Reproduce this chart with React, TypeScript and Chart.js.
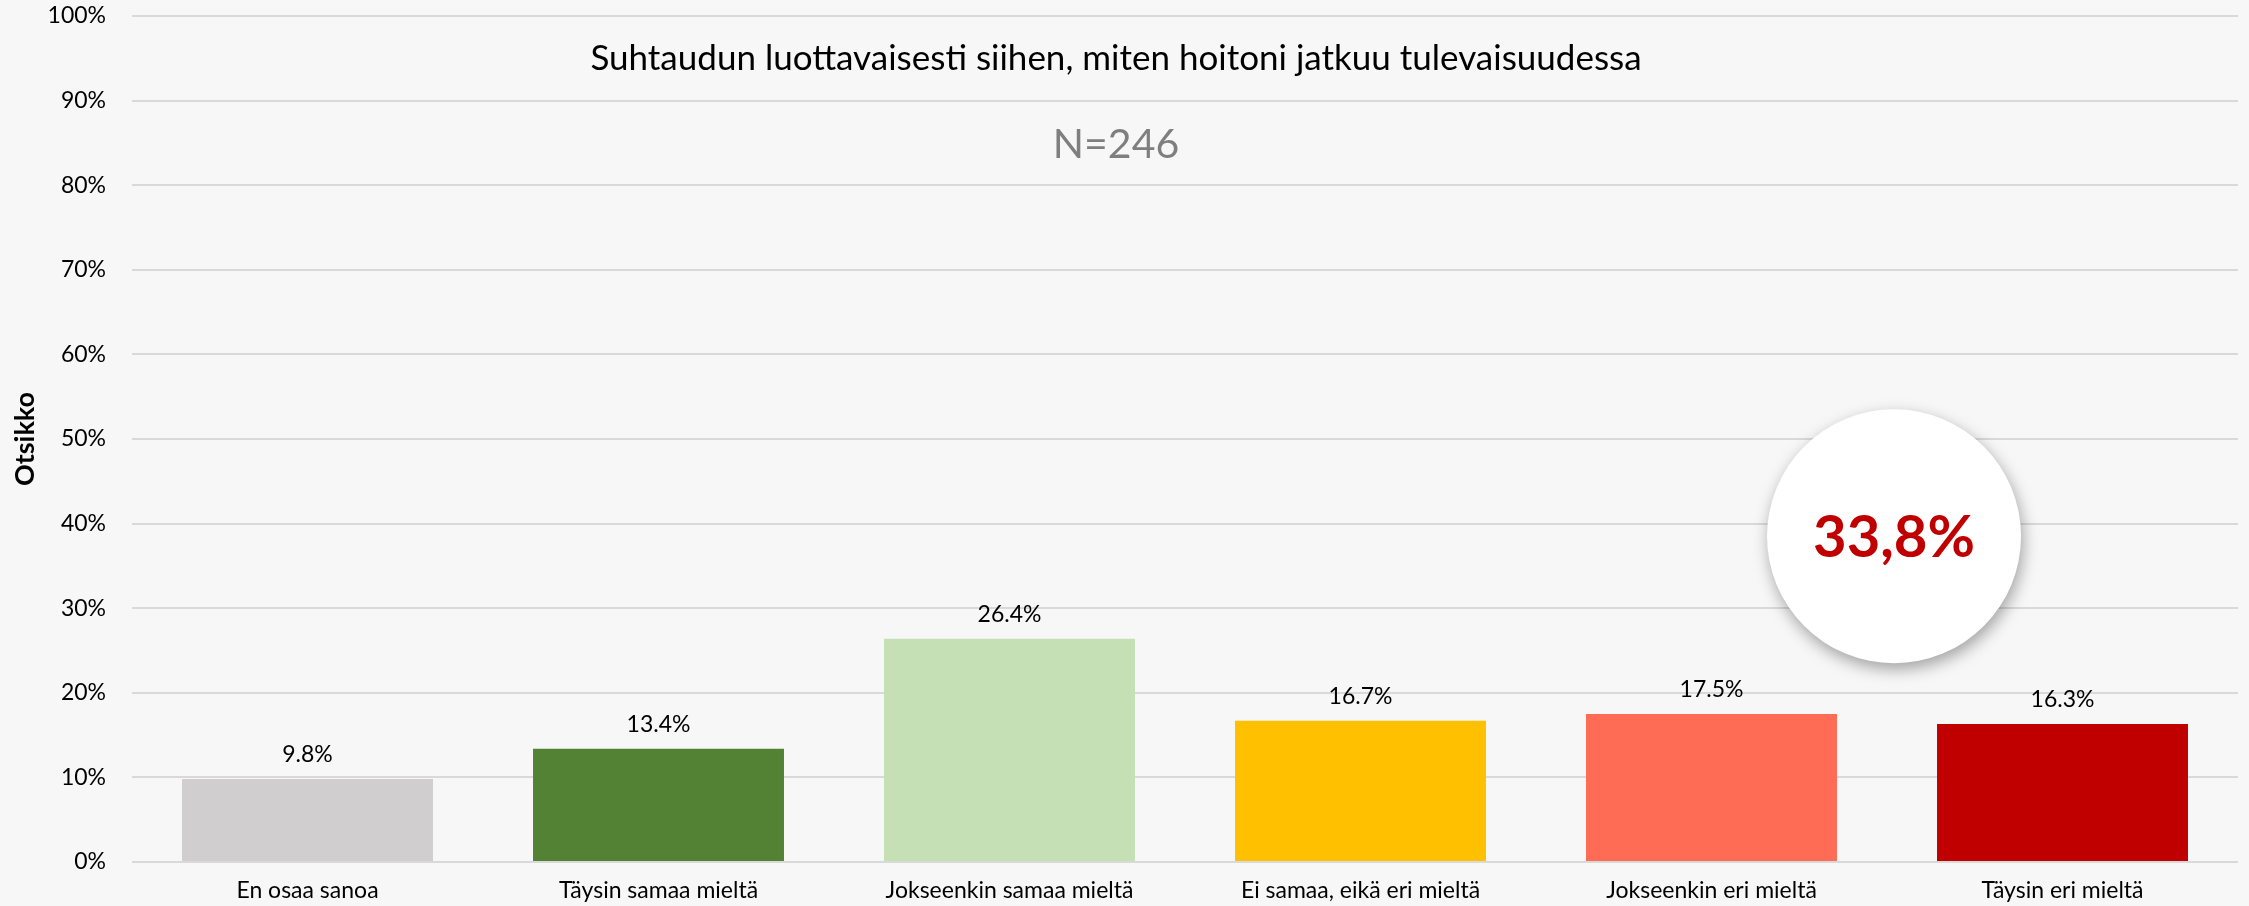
import React, { useEffect, useRef } from "react";
import { Chart, registerables } from "chart.js";

Chart.register(...registerables);

const categories = [
  "En osaa sanoa",
  "Täysin samaa mieltä",
  "Jokseenkin samaa mieltä",
  "Ei samaa, eikä eri mieltä",
  "Jokseenkin eri mieltä",
  "Täysin eri mieltä",
];
const values = [9.8, 13.4, 26.4, 16.7, 17.5, 16.3];
const barColors = ["#D0CECE", "#548235", "#C5E0B4", "#FFC000", "#FF6C55", "#C00000"];
const yTicks = [0, 10, 20, 30, 40, 50, 60, 70, 80, 90, 100];
const chartTitle = "Suhtaudun luottavaisesti siihen, miten hoitoni jatkuu tulevaisuudessa";
const subtitle = "N=246";
const axisTitle = "Otsikko";
const calloutText = "33,8%";
const calloutPos = [4.52, 38.5]; // category index, value

const FONT = "Lato, 'Open Sans', sans-serif";

export default function App() {
  const ref = useRef<HTMLCanvasElement | null>(null);

  useEffect(() => {
    const canvas = ref.current;
    if (!canvas) return;

    const labelsPlugin = {
      id: "barLabels",
      afterDatasetsDraw(chart: any) {
        const ctx = chart.ctx;
        const meta = chart.getDatasetMeta(0);
        ctx.save();
        ctx.font = `23px ${FONT}`;
        ctx.fillStyle = "#000";
        ctx.textAlign = "center";
        ctx.textBaseline = "alphabetic";
        meta.data.forEach((el: any, i: number) => {
          ctx.fillText(values[i].toFixed(1) + "%", el.x, el.y - 17);
        });
        ctx.restore();
      },
    };

    const overlayPlugin = {
      id: "overlay",
      afterDraw(chart: any) {
        const ctx = chart.ctx;
        ctx.save();
        // title
        ctx.textAlign = "center";
        ctx.textBaseline = "alphabetic";
        ctx.fillStyle = "#000";
        ctx.font = `35px ${FONT}`;
        ctx.fillText(chartTitle, 1116, 70);
        ctx.fillStyle = "#7F7F7F";
        ctx.font = `41px ${FONT}`;
        ctx.fillText(subtitle, 1116, 158);

        // callout circle
        const cx = chart.scales.x.getPixelForValue(calloutPos[0]);
        const cy = chart.scales.y.getPixelForValue(calloutPos[1]);
        ctx.save();
        ctx.shadowColor = "rgba(0,0,0,0.35)";
        ctx.shadowBlur = 16;
        ctx.shadowOffsetX = 2;
        ctx.shadowOffsetY = 6;
        ctx.beginPath();
        ctx.arc(cx, cy, 127, 0, Math.PI * 2);
        ctx.fillStyle = "#FFFFFF";
        ctx.fill();
        ctx.restore();
        ctx.fillStyle = "#C00000";
        ctx.font = `bold 58px ${FONT}`;
        ctx.textAlign = "center";
        ctx.textBaseline = "alphabetic";
        ctx.fillText(calloutText, cx, cy + 21);
        ctx.restore();
      },
    };

    const chart = new Chart(canvas, {
      type: "bar",
      data: {
        labels: categories,
        datasets: [
          {
            data: values,
            backgroundColor: barColors,
            borderWidth: 0,
            categoryPercentage: 1,
            barPercentage: 0.715,
          },
        ],
      },
      options: {
        responsive: false,
        animation: false,
        layout: { padding: { top: 16, right: 11, left: 0, bottom: 0 } },
        plugins: {
          legend: { display: false },
          tooltip: { enabled: false },
          title: { display: false },
        },
        scales: {
          x: {
            grid: { display: false },
            border: { display: false },
            ticks: {
              color: "#000",
              font: { family: FONT, size: 23 },
              padding: 7,
              maxRotation: 0,
              autoSkip: false,
            },
            afterFit(scale: any) {
              scale.height = 44;
              scale.paddingLeft = 0;
              scale.paddingRight = 0;
            },
          },
          y: {
            min: 0,
            max: 100,
            afterBuildTicks(scale: any) {
              scale.ticks = yTicks.map((v) => ({ value: v }));
            },
            grid: { color: "#D9D9D9", lineWidth: 2, drawTicks: false },
            border: { display: false },
            ticks: {
              color: "#000",
              font: { family: FONT, size: 23 },
              padding: 26,
              callback: (v: any) => v + "%",
            },
            title: {
              display: true,
              text: axisTitle,
              color: "#000",
              font: { family: FONT, size: 27, weight: "bold" },
              padding: { top: 9, bottom: 0 },
            },
            afterFit(scale: any) {
              scale.width = 132;
              scale.paddingTop = 0;
              scale.paddingBottom = 0;
            },
          },
        },
      },
      plugins: [labelsPlugin, overlayPlugin],
    });

    return () => chart.destroy();
  }, []);

  return (
    <div
      style={{
        position: "absolute",
        left: 0,
        top: 0,
        width: 2249,
        height: 906,
        background: "#F7F7F7",
      }}
    >
      <canvas ref={ref} width={2249} height={906} style={{ display: "block" }} />
    </div>
  );
}
